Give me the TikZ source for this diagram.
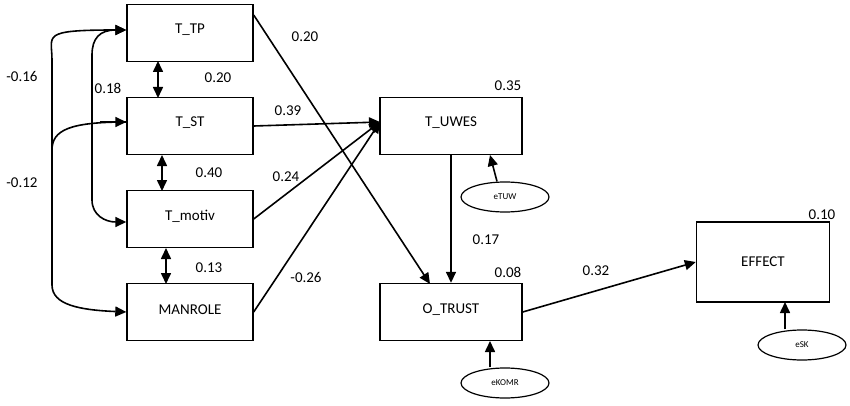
\documentclass[tikz,border=0pt]{standalone}
\usepackage{fontspec}
\setmainfont{Carlito}
\usetikzlibrary{arrows.meta,shapes.geometric}
\begin{document}
\begin{tikzpicture}[x=1pt,y=-1pt,line width=1.6pt,
 box/.style={draw,line width=1.4pt,minimum width=126pt,minimum height=57pt,inner sep=0pt,font=\fontsize{15}{17}\selectfont},
 err/.style={draw,line width=1.2pt,ellipse,minimum width=88pt,minimum height=30pt,inner sep=0pt,font=\fontsize{9}{10}\selectfont},
 arr/.style={-{Triangle[length=11pt,width=10pt]}},
 darr/.style={{Triangle[length=11pt,width=10pt]}-{Triangle[length=11pt,width=10pt]}},
 lab/.style={font=\fontsize{15}{17}\selectfont}]
\useasboundingbox (0,0) rectangle (850,406);
\node[box] (tp) at (190,33) {\raisebox{8pt}{T\_TP}};
\node[box] (st) at (190,126) {\raisebox{8pt}{T\_ST}};
\node[box] (mo) at (190,219) {\raisebox{8pt}{T\_motiv}};
\node[box] (mr) at (190,312) {\raisebox{4pt}{MANROLE}};
\node[box,minimum width=142pt] (uw) at (451,126) {\raisebox{8pt}{T\_UWES}};
\node[box,minimum width=142pt] (ot) at (451,312) {\raisebox{6pt}{O\_TRUST}};
\node[box,minimum width=133pt,minimum height=80pt] (ef) at (763,262) {\raisebox{-6pt}{EFFECT}};
\node[err] (e1) at (505,197) {eTUW};
\node[err] (e2) at (505,383) {eKOMR};
\node[err] (e3) at (802,345) {eSK};
\coordinate (uin) at (380,122);
% covariances
\draw[darr] (tp.west|-0,30) .. controls (40,30) and (52,35) .. (52,60) -- (52,285) .. controls (52,305) and (80,310) .. (mr.west);
\draw (52,150) .. controls (52,130) and (70,122) .. (st.west|-0,122);
\draw[arr] (100,122) -- (st.west|-0,122);
\draw[darr] (tp.west|-0,30) .. controls (100,30) and (92,38) .. (92,55) -- (92,200) .. controls (92,215) and (105,222) .. (mo.west|-0,222);
\draw[darr] (158,61) -- (158,98);
\draw[darr] (162,155) -- (162,191);
\draw[darr] (166,248) -- (166,284);
% paths
\coordinate (otin) at (430,284);
\draw[arr] (tp.east|-0,15) -- (otin);
\draw[arr] (st.east) -- (uin);
\draw[arr] (mo.east) -- (uin);
\draw[arr] (mr.east) -- (uin);
\draw[arr] (uw.south|-0,155) -- (ot.north);
\draw[arr] (ot.east) -- (ef.west);
\coordinate (a1) at (490,155);
\coordinate (a2) at (490,341);
\coordinate (a3) at (785,302);
\draw[arr] (e1.north) ++(-8,0) -- (a1);
\draw[arr] (e2.north) ++(-15,0) -- (a2);
\draw[arr] (e3.north) ++(-17,0) -- (a3);
% labels
\node[lab] at (305,37) {0.20};
\node[lab] at (218,78) {0.20};
\node[lab] at (108,88) {0.18};
\node[lab] at (22,76) {-0.16};
\node[lab] at (22,183) {-0.12};
\node[lab] at (288,111) {0.39};
\node[lab] at (209,173) {0.40};
\node[lab] at (286,177) {0.24};
\node[lab] at (209,268) {0.13};
\node[lab] at (306,277) {-0.26};
\node[lab] at (508,86) {0.35};
\node[lab] at (486,240) {0.17};
\node[lab] at (508,272) {0.08};
\node[lab] at (596,271) {0.32};
\node[lab] at (822,215) {0.10};
\end{tikzpicture}
\end{document}
